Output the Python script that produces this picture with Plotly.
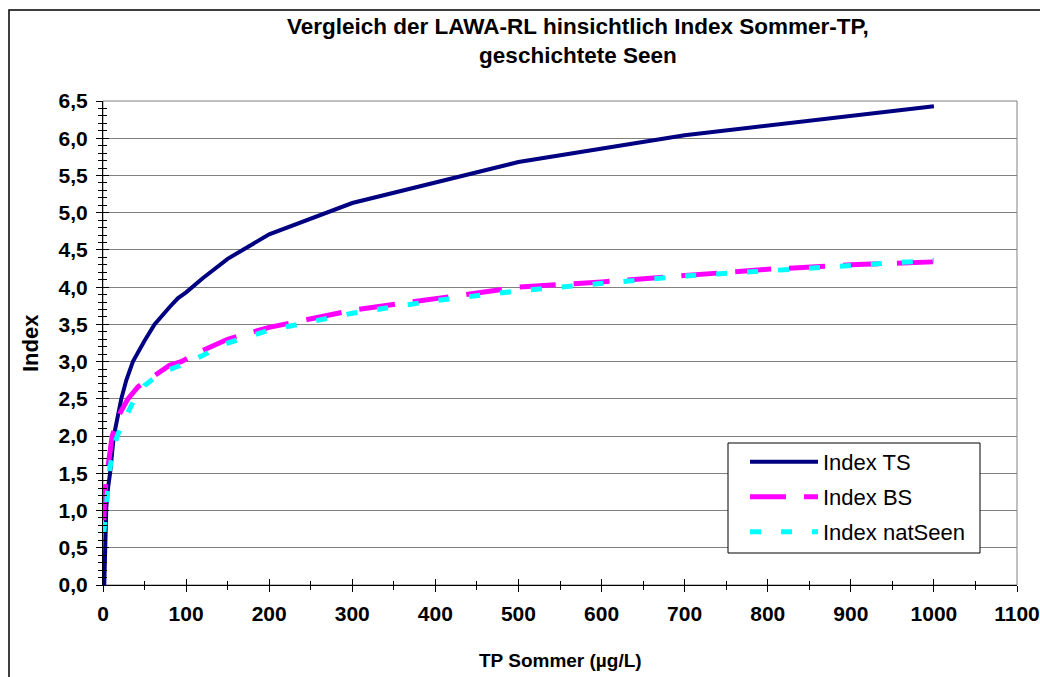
import plotly.graph_objects as go

# TP Sommer (µg/L) and the corresponding index values of the three LAWA variants
tp_ts = [1.5, 2, 3, 4, 6, 8.5, 13, 17, 22, 28, 36, 50, 62, 80, 90, 100, 120, 150, 200, 300, 400, 500, 700, 1000]
index_ts = [0.0, 0.3, 0.7, 1.05, 1.3, 1.5, 2.0, 2.25, 2.5, 2.75, 3.0, 3.28, 3.5, 3.73, 3.85, 3.93, 4.12, 4.38, 4.71, 5.13, 5.40, 5.68, 6.04, 6.43]

tp_bs = [1, 2, 5, 11, 20, 30, 42, 60, 80, 94, 120, 150, 200, 300, 400, 500, 600, 700, 800, 900, 1000]
index_bs = [0.87, 1.2, 1.5, 2.0, 2.3, 2.5, 2.66, 2.8, 2.95, 3.0, 3.15, 3.3, 3.46, 3.69, 3.85, 4.0, 4.07, 4.16, 4.24, 4.30, 4.34]

tp_nat = [1, 3, 5, 8, 12, 17, 25, 38, 50, 70, 105, 150, 200, 300, 400, 500, 700, 1000]
index_nat = [0.7, 1.0, 1.25, 1.55, 1.8, 2.0, 2.2, 2.5, 2.68, 2.85, 3.0, 3.25, 3.42, 3.65, 3.82, 3.95, 4.15, 4.36]

FONT = "Liberation Sans, Arial, sans-serif"

# plot area in pixels: x 103..1017, y 101..585
L, R, T, B = 103, 1017, 101, 585


def px(x):
    return (x - L) / (R - L)


def py(y):
    return (B - y) / (B - T)


fig = go.Figure()
fig.add_trace(go.Scatter(x=tp_ts, y=index_ts, mode="lines", name="Index TS", legend="legend",
                         line=dict(color="#000080", width=4)))
fig.add_trace(go.Scatter(x=tp_bs, y=index_bs, mode="lines", name="Index BS", legend="legend2",
                         line=dict(color="#FF00FF", width=5, dash="36px,18px")))
fig.add_trace(go.Scatter(x=tp_nat, y=index_nat, mode="lines", name="Index natSeen", legend="legend3",
                         line=dict(color="#00FFFF", width=5, dash="11px,20px")))
# empty trace that carries the inner-tick overlay axes
fig.add_trace(go.Scatter(x=[], y=[], xaxis="x2", yaxis="y2", showlegend=False, hoverinfo="skip"))

tickfont = dict(family=FONT, size=21, color="black", weight="bold")
bold = dict(family=FONT, color="black", weight="bold")


def legend_at(ycenter):
    return dict(x=px(745), y=py(ycenter), xanchor="left", yanchor="middle",
                bgcolor="rgba(0,0,0,0)", borderwidth=0,
                font=dict(family=FONT, size=22, color="black"), itemwidth=68)


fig.update_layout(
    width=1040, height=677,
    margin=dict(l=L, r=1040 - R, t=T, b=677 - B, autoexpand=False),
    paper_bgcolor="white", plot_bgcolor="white",
    separators=", ",
    showlegend=True,
    xaxis=dict(range=[0, 1100], dtick=100, tick0=0, showgrid=False, zeroline=False,
               showline=True, linecolor="black", linewidth=1, automargin=False,
               ticks="outside", ticklen=6, tickcolor="black", tickwidth=1,
               minor=dict(dtick=50, ticks="outside", ticklen=4, tickcolor="black", showgrid=False),
               tickfont=tickfont, ticklabelstandoff=4),
    yaxis=dict(range=[0, 6.5], dtick=0.5, tick0=0, tickformat=".1f",
               showgrid=True, gridcolor="#808080", gridwidth=1, zeroline=False,
               showline=True, linecolor="black", linewidth=1, automargin=False,
               ticks="outside", ticklen=6, tickcolor="black", tickwidth=1,
               minor=dict(dtick=0.1, ticks="outside", ticklen=4, tickcolor="black", showgrid=False),
               tickfont=tickfont, ticklabelstandoff=4),
    xaxis2=dict(overlaying="x", matches="x", anchor="y", side="bottom", automargin=False,
                showgrid=False, zeroline=False, showline=False, showticklabels=False,
                dtick=100, tick0=0, ticks="inside", ticklen=6, tickcolor="black",
                minor=dict(dtick=50, ticks="inside", ticklen=4, tickcolor="black")),
    yaxis2=dict(overlaying="y", matches="y", anchor="x", side="left", automargin=False,
                showgrid=False, zeroline=False, showline=False, showticklabels=False,
                dtick=0.5, tick0=0, ticks="inside", ticklen=6, tickcolor="black",
                minor=dict(dtick=0.1, ticks="inside", ticklen=4, tickcolor="black")),
    legend=legend_at(462),
    legend2=legend_at(497),
    legend3=legend_at(532),
    annotations=[
        dict(text="Vergleich der LAWA-RL hinsichtlich Index Sommer-TP,<br>geschichtete Seen",
             xref="paper", yref="paper", x=px(578), y=py(41), xanchor="center", yanchor="middle",
             showarrow=False, align="center", font=dict(size=22.5, **bold)),
        dict(text="TP Sommer (µg/L)", xref="paper", yref="paper", x=px(560), y=py(660),
             xanchor="center", yanchor="middle", showarrow=False, font=dict(size=19, **bold)),
        dict(text="Index", xref="paper", yref="paper", x=px(30), y=py(343), textangle=-90,
             xanchor="center", yanchor="middle", showarrow=False, font=dict(size=22, **bold)),
    ],
    shapes=[
        # gray frame of the plot area (top and right edges)
        dict(type="rect", xref="x domain", yref="y domain", x0=0, x1=1, y0=0, y1=1,
             line=dict(color="#808080", width=1), fillcolor="rgba(0,0,0,0)", layer="below"),
        # legend box
        dict(type="rect", xref="paper", yref="paper", x0=px(728), x1=px(980), y0=py(553), y1=py(443),
             line=dict(color="black", width=1), fillcolor="white", layer="above"),
        # outer chart border
        dict(type="rect", xref="paper", yref="paper", x0=px(9), x1=1.2, y0=-0.4, y1=py(10),
             line=dict(color="black", width=1.5), fillcolor="rgba(0,0,0,0)"),
    ],
)

fig.write_html("out.html")
